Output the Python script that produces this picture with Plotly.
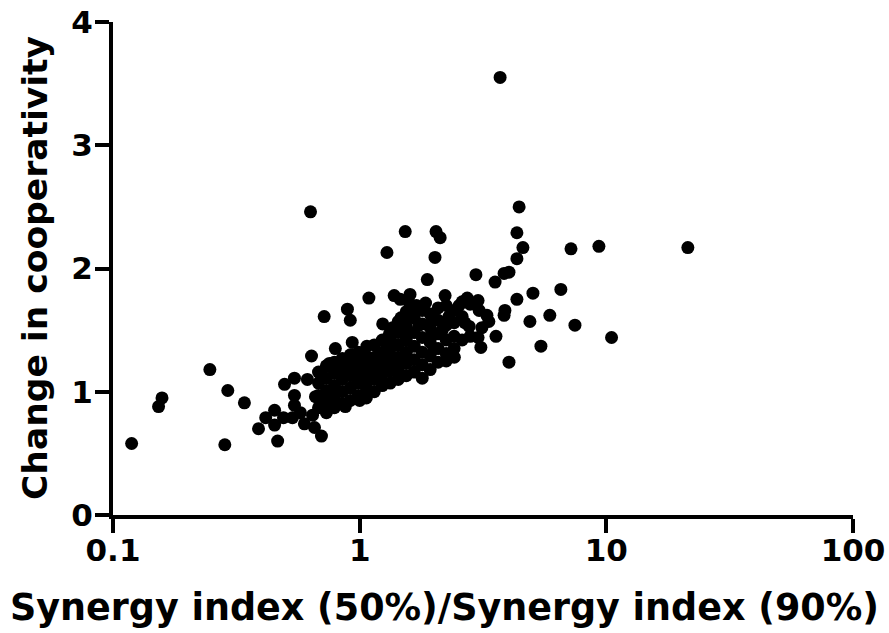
import plotly.graph_objects as go

# Synergy index ratio (50% / 90%) for each combination
synergy_ratio = [
    0.119, 0.153, 0.158, 0.247, 0.292, 0.284, 0.341, 0.389, 0.416, 0.452,
    0.452, 0.465, 0.496, 0.544, 0.491, 0.534, 0.544, 0.544, 0.575, 0.597,
    0.656, 0.700, 0.638, 0.614, 0.694, 0.797, 0.933, 1.07, 0.754, 0.644,
    0.662, 0.875, 1.00, 0.632, 0.718, 0.892, 0.916, 1.09, 1.38, 1.46,
    1.60, 1.53, 2.04, 2.12, 1.29, 2.02, 1.88, 2.96, 3.54, 3.85,
    4.03, 4.34, 4.59, 4.34, 4.43, 3.71, 5.04, 4.34, 5.90, 4.90,
    5.43, 4.03, 3.88, 3.85, 3.57, 3.10, 2.42, 2.22, 2.73, 2.53,
    3.05, 3.28, 3.34, 3.13, 2.78, 2.67, 2.08, 2.30, 1.59, 1.47,
    1.32, 7.19, 9.33, 21.4, 6.54, 7.46, 10.5, 1.61, 1.97, 1.53,
    1.74, 2.16,
    0.681, 0.681, 0.681, 0.681,
    0.733, 0.733, 0.733, 0.733, 0.733,
    0.790, 0.790, 0.790, 0.790, 0.790,
    0.851, 0.851, 0.851, 0.851, 0.851,
    0.917, 0.917, 0.917, 0.917, 0.917,
    0.988, 0.988, 0.988, 0.988, 0.988,
    1.064, 1.064, 1.064, 1.064, 1.064,
    1.146, 1.146, 1.146, 1.146, 1.146,
    1.235, 1.235, 1.235, 1.235, 1.235,
    1.330, 1.330, 1.330, 1.330, 1.330,
    1.433, 1.433, 1.433, 1.433, 1.433, 1.433,
    1.545, 1.545, 1.545, 1.545, 1.545, 1.545,
    1.664, 1.664, 1.664, 1.664, 1.664,
    1.793, 1.793, 1.793, 1.793, 1.793, 1.793,
    1.931, 1.931, 1.931, 1.931, 1.931,
    2.080, 2.080, 2.080, 2.080,
    2.243, 2.243, 2.243, 2.243, 2.243,
    2.415, 2.415, 2.415, 2.415,
    2.603, 2.603, 2.603,
    2.804, 2.804,
    3.020, 3.020,
    1.24, 1.36, 1.30, 1.50, 1.70, 1.85, 1.95, 2.00, 1.15, 0.78,
]

# Change in cooperativity for the same combinations
cooperativity_change = [
    0.58, 0.88, 0.95, 1.18, 1.01, 0.57, 0.91, 0.70, 0.79, 0.85,
    0.73, 0.60, 1.06, 1.11, 0.79, 0.79, 0.97, 0.89, 0.83, 0.74,
    0.71, 0.64, 1.29, 1.10, 1.15, 1.35, 1.40, 1.37, 1.23, 0.81,
    0.96, 0.88, 0.93, 2.46, 1.61, 1.67, 1.58, 1.76, 1.78, 1.75,
    1.79, 2.30, 2.30, 2.25, 2.13, 2.09, 1.91, 1.95, 1.89, 1.96,
    1.97, 2.08, 2.17, 2.29, 2.50, 3.55, 1.80, 1.75, 1.62, 1.57,
    1.37, 1.24, 1.66, 1.62, 1.45, 1.36, 1.28, 1.78, 1.76, 1.70,
    1.66, 1.62, 1.57, 1.52, 1.53, 1.56, 1.68, 1.61, 1.72, 1.60,
    1.47, 2.16, 2.18, 2.17, 1.83, 1.54, 1.44, 1.64, 1.60, 1.48,
    1.54, 1.50,
    1.16, 1.07, 0.97, 0.87,
    1.21, 1.11, 1.01, 0.92, 0.83,
    1.24, 1.15, 1.05, 0.96, 0.87,
    1.27, 1.19, 1.10, 1.00, 0.90,
    1.30, 1.22, 1.13, 1.03, 0.93,
    1.32, 1.24, 1.16, 1.07, 0.97,
    1.29, 1.21, 1.12, 1.03, 0.95,
    1.38, 1.27, 1.18, 1.10, 1.00,
    1.42, 1.32, 1.23, 1.14, 1.05,
    1.44, 1.35, 1.26, 1.17, 1.07,
    1.57, 1.48, 1.38, 1.28, 1.19, 1.10,
    1.65, 1.53, 1.42, 1.32, 1.23, 1.13,
    1.60, 1.48, 1.37, 1.26, 1.16,
    1.66, 1.55, 1.44, 1.32, 1.22, 1.11,
    1.63, 1.52, 1.40, 1.29, 1.18,
    1.58, 1.47, 1.35, 1.24,
    1.70, 1.54, 1.42, 1.31, 1.25,
    1.66, 1.56, 1.45, 1.35,
    1.73, 1.61, 1.42,
    1.71, 1.45,
    1.74, 1.44,
    1.55, 1.52, 1.40, 1.58, 1.70, 1.72, 1.45, 1.35, 1.28, 1.00,
]

x_ticks = [0.1, 1, 10, 100]
x_tick_text = ["0.1", "1", "10", "100"]
y_ticks = [0, 1, 2, 3, 4]

x_title = "Synergy index (50%)/Synergy index (90%)"
y_title = "Change in cooperativity"

FONT = "DejaVu Sans"

# Plot-area geometry in pixels
W, H = 889, 633
L, R, T, B = 113, 36, 22, 118
PW, PH = W - L - R, H - T - B

fig = go.Figure(
    go.Scatter(
        x=synergy_ratio,
        y=cooperativity_change,
        mode="markers",
        marker=dict(size=13, color="black", line=dict(width=0)),
        cliponaxis=False,
        showlegend=False,
    )
)

axis_common = dict(
    showline=True,
    linecolor="black",
    linewidth=4,
    ticks="outside",
    ticklen=14,
    tickwidth=4,
    tickcolor="black",
    showgrid=False,
    zeroline=False,
    automargin=False,
    tickfont=dict(family=FONT, size=31, color="black", weight="bold"),
)

fig.update_xaxes(
    type="log",
    range=[-1, 2],
    tickvals=x_ticks,
    ticktext=x_tick_text,
    ticklabelstandoff=-9,
    **axis_common,
)
fig.update_yaxes(
    range=[0, 4],
    tickvals=y_ticks,
    ticklabelstandoff=-4,
    **axis_common,
)

# Axis titles placed relative to the whole figure
fig.add_annotation(
    text=x_title,
    xref="paper", yref="paper",
    x=(444 - L) / PW, y=(H - B - 607) / PH,
    xanchor="center", yanchor="middle",
    showarrow=False,
    font=dict(family=FONT, size=36.5, color="black", weight="bold"),
)
fig.add_annotation(
    text=y_title,
    xref="paper", yref="paper",
    x=(35 - L) / PW, y=(H - B - 268) / PH,
    xanchor="center", yanchor="middle",
    textangle=-90,
    showarrow=False,
    font=dict(family=FONT, size=34.5, color="black", weight="bold"),
)

fig.update_layout(
    width=W,
    height=H,
    margin=dict(l=L, r=R, t=T, b=B, autoexpand=False),
    plot_bgcolor="white",
    paper_bgcolor="white",
)

fig.write_html("out.html")
